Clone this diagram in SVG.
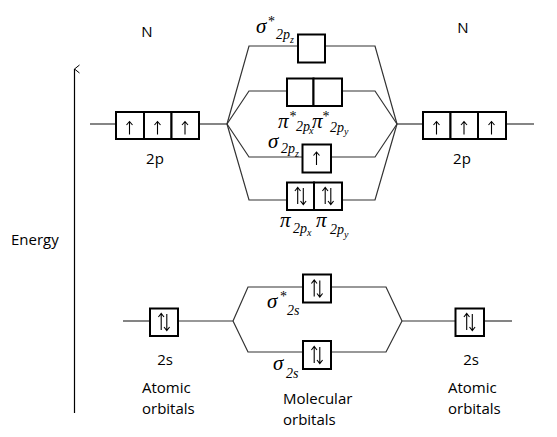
<svg xmlns="http://www.w3.org/2000/svg" width="557" height="437" viewBox="0 0 557 437">
<style>
.bg{fill:#ffffff}
.ln{stroke:#333333;stroke-width:1.2;fill:none}
.box{fill:#ffffff;stroke:#000000;stroke-width:2}
.el{stroke:#000000;stroke-width:1.1;fill:none}
.lbl{font-family:"Open Sans","Liberation Sans",sans-serif;font-size:15px;fill:#000000}
.gk{font-family:"Liberation Serif",serif;font-style:italic;font-size:21px;fill:#000000}
.sb{font-family:"Liberation Serif",serif;font-style:italic;font-size:14px;fill:#000000}
.ss{font-family:"Liberation Serif",serif;font-style:italic;font-size:10px;fill:#000000}
.st{font-family:"Liberation Serif",serif;font-size:14px;fill:#000000}
</style>
<defs>
<marker id="open" markerWidth="10" markerHeight="10" refX="5" refY="1" orient="auto-start-reverse" markerUnits="userSpaceOnUse" viewBox="0 0 10 10">
<path d="M1,6 L5,1 L9,6" fill="none" stroke="#000" stroke-width="1"/>
</marker>
<g id="up"><path class="el" d="M0,6.5 L0,-6.5 M-3,-3 L0,-6.5 L3,-3"/></g>
<g id="pair"><path class="el" d="M-2.8,8 L-2.8,-8.5 M-5.6,-5 L-2.8,-8.5 L0,-5 M2.8,-8 L2.8,8.5 M0,5 L2.8,8.5 L5.6,5"/></g>
</defs>
<rect class="bg" x="0" y="0" width="557" height="437"/>

<g id="connectors">
<line x1="74.5" y1="413" x2="74.5" y2="69" stroke="#000" stroke-width="1.2" marker-end="url(#open)"/>
<line class="ln" x1="90" y1="124" x2="116" y2="124"/>
<line class="ln" x1="199" y1="124" x2="227" y2="124"/>
<polyline class="ln" points="227,124 249,46 298,46"/>
<polyline class="ln" points="227,124 249,91 287,91"/>
<polyline class="ln" points="227,124 249,157 302,157"/>
<polyline class="ln" points="227,124 249,200 287,200"/>
<polyline class="ln" points="325,46 375,46 397,124"/>
<polyline class="ln" points="342,91 375,91 397,124"/>
<polyline class="ln" points="331,157 375,157 397,124"/>
<polyline class="ln" points="342,200 375,200 397,124"/>
<line class="ln" x1="397" y1="124" x2="423" y2="124"/>
<line class="ln" x1="506" y1="124" x2="534" y2="124"/>
<line class="ln" x1="123" y1="321" x2="150" y2="321"/>
<line class="ln" x1="178" y1="321" x2="233" y2="321"/>
<polyline class="ln" points="233,321 248,287 303,287"/>
<polyline class="ln" points="233,321 248,352 303,352"/>
<polyline class="ln" points="331,287 386,287 402,321"/>
<polyline class="ln" points="331,352 386,352 402,321"/>
<line class="ln" x1="402" y1="321" x2="455" y2="321"/>
<line class="ln" x1="484" y1="321" x2="512" y2="321"/>
</g>

<g id="energy-label"><text class="lbl" x="11" y="245">Energy</text></g>
<g id="n-left"><text class="lbl" x="147" y="37" text-anchor="middle">N</text></g>
<g id="n-right"><text class="lbl" x="463" y="33" text-anchor="middle">N</text></g>

<g id="left-2p">
<rect class="box" x="116" y="112" width="28" height="27"/>
<rect class="box" x="144" y="112" width="27.5" height="27"/>
<rect class="box" x="171.5" y="112" width="27.5" height="27"/>
<use href="#up" x="129.5" y="128"/>
<use href="#up" x="157.5" y="128"/>
<use href="#up" x="185" y="128"/>
<text class="lbl" x="155" y="164" text-anchor="middle">2p</text>
</g>

<g id="right-2p">
<rect class="box" x="423" y="112" width="27.5" height="27"/>
<rect class="box" x="450.5" y="112" width="27.5" height="27"/>
<rect class="box" x="478" y="112" width="28" height="27"/>
<use href="#up" x="436.5" y="128"/>
<use href="#up" x="464" y="128"/>
<use href="#up" x="491.5" y="128"/>
<text class="lbl" x="462" y="164" text-anchor="middle">2p</text>
</g>

<g id="sigma-star-2p">
<rect class="box" x="298" y="34.5" width="27" height="28"/>
<text class="gk" x="256" y="33">σ</text>
<text class="st" x="268" y="26">*</text>
<text class="sb" x="276" y="39">2p</text>
<text class="ss" x="290" y="43">z</text>
</g>

<g id="pi-star-2p">
<rect class="box" x="287" y="78.5" width="26.5" height="27.5"/>
<rect class="box" x="313.5" y="78.5" width="28.5" height="27.5"/>
<text class="gk" x="278" y="128">π</text>
<text class="st" x="289.5" y="121">*</text>
<text class="sb" x="296" y="131">2p</text>
<text class="ss" x="309" y="134">x</text>
<text class="gk" x="312" y="128">π</text>
<text class="st" x="322.5" y="121">*</text>
<text class="sb" x="330" y="132">2p</text>
<text class="ss" x="344" y="135">y</text>
</g>

<g id="sigma-2p">
<rect class="box" x="302.5" y="144.5" width="28.5" height="28"/>
<use href="#up" x="316.5" y="158.5"/>
<text class="gk" x="268" y="148">σ</text>
<text class="sb" x="281" y="153">2p</text>
<text class="ss" x="295" y="157">z</text>
</g>

<g id="pi-2p">
<rect class="box" x="287" y="182.5" width="27" height="27.5"/>
<rect class="box" x="314" y="182.5" width="28" height="27.5"/>
<use href="#pair" x="300.5" y="196"/>
<use href="#pair" x="328" y="196"/>
<text class="gk" x="280" y="227">π</text>
<text class="sb" x="293" y="233">2p</text>
<text class="ss" x="307" y="236">x</text>
<text class="gk" x="316" y="227">π</text>
<text class="sb" x="330" y="234">2p</text>
<text class="ss" x="344" y="238">y</text>
</g>

<g id="left-2s">
<rect class="box" x="150" y="308.5" width="28" height="27.5"/>
<use href="#pair" x="164" y="322"/>
<text class="lbl" x="165" y="365" text-anchor="middle">2s</text>
<text class="lbl" x="142" y="393">Atomic</text>
<text class="lbl" x="142" y="414">orbitals</text>
</g>

<g id="sigma-star-2s">
<rect class="box" x="303" y="274.5" width="28" height="28"/>
<use href="#pair" x="317" y="288.5"/>
<text class="gk" x="267" y="308">σ</text>
<text class="st" x="280" y="301">*</text>
<text class="sb" x="287" y="315">2s</text>
</g>

<g id="sigma-2s">
<rect class="box" x="303" y="341" width="28" height="28"/>
<use href="#pair" x="317" y="355"/>
<text class="gk" x="273" y="370">σ</text>
<text class="sb" x="286" y="378">2s</text>
<text class="lbl" x="283" y="404">Molecular</text>
<text class="lbl" x="283" y="425">orbitals</text>
</g>

<g id="right-2s">
<rect class="box" x="455.5" y="308.5" width="28.5" height="27.5"/>
<use href="#pair" x="469.5" y="322"/>
<text class="lbl" x="471" y="365" text-anchor="middle">2s</text>
<text class="lbl" x="448" y="393">Atomic</text>
<text class="lbl" x="448" y="414">orbitals</text>
</g>
</svg>
